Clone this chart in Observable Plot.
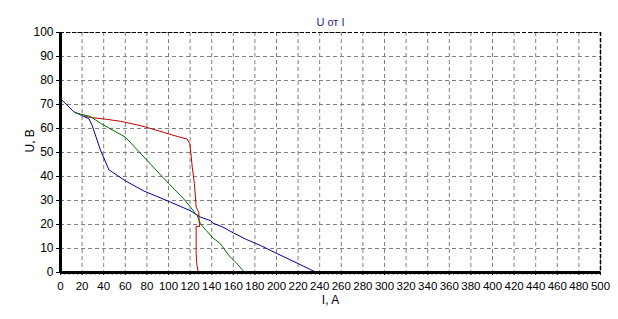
<!DOCTYPE html>
<html>
<head>
<meta charset="utf-8">
<script src="https://cdn.jsdelivr.net/npm/d3@7"></script>
<script src="https://cdn.jsdelivr.net/npm/@observablehq/plot@0.6"></script>
<style>
  html, body { margin: 0; padding: 0; background: #fff; }
  #chart svg { display: block; }
</style>
</head>
<body>
<div id="chart"></div>
<script>
const title = "U от I";
const xLabel = "I, A";
const yLabel = "U, В";
const xTicks = d3.range(0, 501, 20);
const yTicks = d3.range(0, 101, 10);

const blueI = [0, 12.3, 26.5, 29.5, 37, 44.8, 60, 77, 102, 120, 130, 139, 141, 150, 160.5, 172, 185, 200, 215, 237];
const blueU = [72.4, 67, 64, 61, 51, 42.8, 38.2, 34, 29.3, 25.8, 23, 21.6, 20.6, 19, 16.4, 13.8, 11.3, 8, 4.8, 0];

const redI = [22, 27.6, 40, 55.6, 74, 89.5, 108, 117.3, 119.8, 122, 124, 125.6, 128, 128.7, 125.6, 125.6, 126.2, 127.5];
const redU = [65.3, 64.6, 64, 63, 61.2, 59.2, 56.7, 55.6, 53.6, 43.9, 37, 27.2, 25.1, 19.2, 19.2, 8, 3.6, 0];

const greenI = [14, 18.5, 27.8, 37, 60, 80.2, 100.3, 112.7, 120.4, 126.5, 129.6, 135, 140.4, 148, 155.9, 163.6, 170.4];
const greenU = [66.5, 66, 65, 62.2, 56.4, 46.7, 37, 31.4, 27.2, 23.75, 20.3, 17.5, 14.7, 12, 7.1, 3.6, 0];

const series = [
  {name: "blue", color: "#00009c", I: blueI, U: blueU},
  {name: "red", color: "#c00000", I: redI, U: redU},
  {name: "green", color: "#007000", I: greenI, U: greenU}
];
const rows = series.flatMap(s => s.I.map((v, i) => ({series: s.name, I: v, U: s.U[i]})));
const colorMap = Object.fromEntries(series.map(s => [s.name, s.color]));

const font = "Arial, 'Liberation Sans', sans-serif";
const chart = Plot.plot({
  width: 618,
  height: 319,
  marginTop: 32,
  marginBottom: 47,
  marginLeft: 60,
  marginRight: 18,
  style: {fontFamily: font, fontSize: "11px", color: "#000", background: "#fff"},
  x: {domain: [0, 500]},
  y: {domain: [0, 100]},
  marks: [
    Plot.gridX(xTicks, {stroke: "#808080", strokeOpacity: 1, strokeDasharray: "4,3"}),
    Plot.gridY(yTicks, {stroke: "#808080", strokeOpacity: 1, strokeDasharray: "4,3"}),
    Plot.ruleY([100], {stroke: "#000", strokeDasharray: "4,2"}),
    Plot.ruleX([500], {stroke: "#000", strokeDasharray: "4,2", strokeWidth: 1.5}),
    Plot.axisX(d3.range(0, 501, 4), {tickSize: 3, tickFormat: () => "", label: null, stroke: "#808080"}),
    Plot.axisX(xTicks, {tickSize: 3, tickPadding: 6, label: null, fontSize: 11.5}),
    Plot.axisY(d3.range(0, 101, 2), {tickSize: 0, tickFormat: () => "", label: null}),
    Plot.axisY(yTicks, {tickSize: 4, tickPadding: 3, label: null, fontSize: 12}),
    Plot.line(rows, {x: "I", y: "U", z: "series", stroke: d => colorMap[d.series], strokeWidth: 1}),
    Plot.ruleX([0], {stroke: "#000", strokeWidth: 3}),
    Plot.ruleY([0], {stroke: "#000", strokeWidth: 3}),
    Plot.text([title], {frameAnchor: "top", dy: -14, fill: "#1a1aa8", fontSize: 11}),
    Plot.text([xLabel], {frameAnchor: "bottom", dy: 31, fill: "#000", fontSize: 12}),
    Plot.text([yLabel], {frameAnchor: "left", dx: -30, rotate: -90, fill: "#000", fontSize: 12})
  ]
});
document.getElementById("chart").appendChild(chart);
</script>
</body>
</html>
